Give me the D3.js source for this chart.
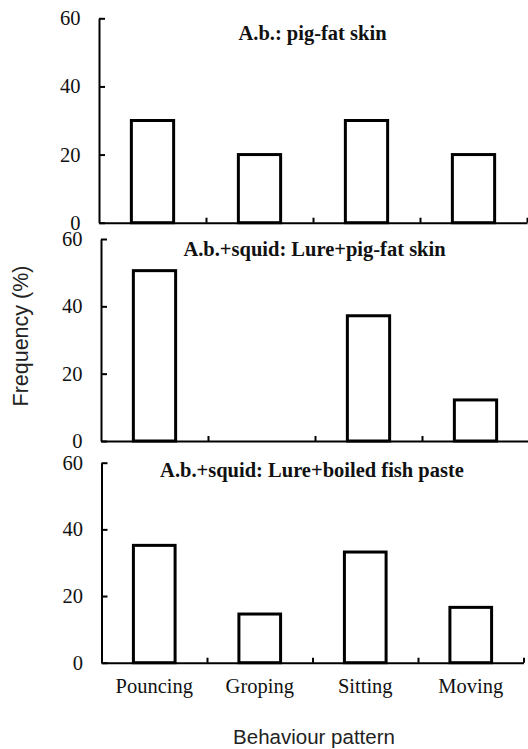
<!DOCTYPE html>
<html>
<head>
<meta charset="utf-8">
<script src="https://cdn.jsdelivr.net/npm/d3@7"></script>
<style>
  html, body { margin: 0; padding: 0; background: #fff; }
  svg { display: block; }
  .serif { font-family: 'Liberation Serif', 'Times New Roman', serif; }
</style>
</head>
<body>
<svg id="chart" width="528" height="749"></svg>
<script>
// ---- data ----
const categories = ["Pouncing", "Groping", "Sitting", "Moving"];
const panelTitles = [
  "A.b.: pig-fat skin",
  "A.b.+squid: Lure+pig-fat skin",
  "A.b.+squid: Lure+boiled fish paste"
];
const pigFatSkin = [30, 20, 30, 20];
const lurePigFatSkin = [50.6, 0, 37.2, 12.2];
const lureBoiledFishPaste = [35.2, 14.6, 33.2, 16.6];
const yTicks = [0, 20, 40, 60];
const yLabel = "Frequency (%)";
const xLabel = "Behaviour pattern";

// ---- layout ----
const seriesList = [pigFatSkin, lurePigFatSkin, lureBoiledFishPaste];
const frames = [
  { left: 99,  right: 527,   top: 18.3,  bottom: 222.7, titleY: 39.5 },
  { left: 101, right: 529,   top: 239,   bottom: 441,   titleY: 255.5 },
  { left: 101.5, right: 523.5, top: 462.7, bottom: 662.7, titleY: 476.5 }
];
const serif = "'Liberation Serif', 'Times New Roman', serif";
const sans = "'Liberation Sans', Arial, sans-serif";

const svg = d3.select("#chart");

frames.forEach((f, i) => {
  const values = seriesList[i];
  const g = svg.append("g");

  const x = d3.scaleBand()
    .domain(categories)
    .range([f.left, f.right])
    .paddingInner(0.605)
    .paddingOuter(0.3025);
  const xEdges = d3.scaleLinear()
    .domain([0, categories.length])
    .range([f.left, f.right]);
  const y = d3.scaleLinear()
    .domain([0, 60])
    .range([f.bottom, f.top]);

  // bars
  g.selectAll("rect.bar")
    .data(categories.map((c, k) => ({ c, v: values[k] })).filter(d => d.v > 0))
    .join("rect")
    .attr("class", "bar")
    .attr("x", d => x(d.c))
    .attr("width", x.bandwidth())
    .attr("y", d => y(d.v))
    .attr("height", d => y(0) - y(d.v))
    .attr("fill", "#fff")
    .attr("stroke", "#000")
    .attr("stroke-width", 3);

  // y axis
  const yAxis = g.append("g")
    .attr("transform", `translate(${f.left},0)`)
    .call(d3.axisLeft(y).tickValues(yTicks).tickSize(-6).tickSizeOuter(0).tickPadding(18.5));
  yAxis.attr("font-family", serif).attr("font-size", 20.5);
  yAxis.select(".domain").attr("stroke", "#000").attr("stroke-width", 2);
  yAxis.selectAll(".tick line").attr("stroke", "#000").attr("stroke-width", 2);
  yAxis.selectAll(".tick text")
    .attr("class", "serif")
    .style("font-family", serif)
    .style("font-size", "20.5px")
    .attr("fill", "#111");

  // x axis (ticks at category boundaries)
  const xAxis = g.append("g")
    .attr("transform", `translate(0,${f.bottom})`)
    .call(d3.axisBottom(xEdges).tickValues(d3.range(1, categories.length + 1))
      .tickSize(-5).tickSizeOuter(0).tickFormat(""));
  xAxis.select(".domain").attr("stroke", "#000").attr("stroke-width", 2);
  xAxis.selectAll(".tick line").attr("stroke", "#000").attr("stroke-width", 2);

  // panel title
  g.append("text")
    .attr("x", (f.left + f.right) / 2 - 0.5)
    .attr("y", f.titleY)
    .attr("text-anchor", "middle")
    .style("font-family", serif)
    .attr("font-weight", "bold")
    .style("font-size", "20.5px")
    .attr("fill", "#111")
    .text(panelTitles[i]);

  // category labels only on bottom panel
  if (i === frames.length - 1) {
    const cat = g.append("g")
      .attr("transform", `translate(0,${f.bottom})`)
      .call(d3.axisBottom(x).tickSize(0).tickPadding(15.5));
    cat.attr("font-family", serif).attr("font-size", 20.5);
    cat.select(".domain").remove();
    cat.selectAll(".tick text")
      .style("font-family", serif)
      .style("font-size", "20.5px")
      .attr("fill", "#111");
  }
});

// axis titles
svg.append("text")
  .attr("x", 314)
  .attr("y", 743.5)
  .attr("text-anchor", "middle")
  .style("font-family", sans)
  .style("font-size", "20.5px")
  .attr("fill", "#222")
  .text(xLabel);

svg.append("text")
  .attr("transform", "translate(28,336) rotate(-90)")
  .attr("text-anchor", "middle")
  .style("font-family", sans)
  .style("font-size", "21.5px")
  .attr("fill", "#222")
  .text(yLabel);
</script>
</body>
</html>
